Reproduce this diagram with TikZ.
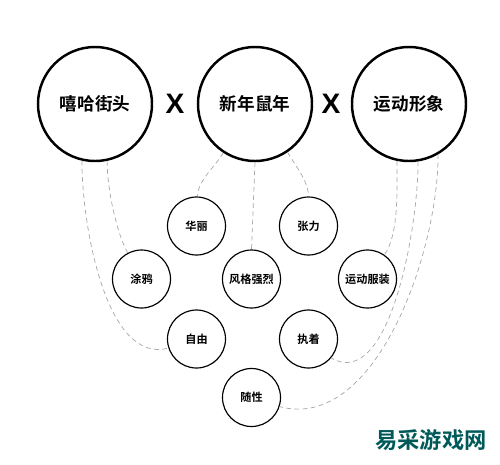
\documentclass[tikz,border=0pt]{standalone}
\usepackage{fontspec}
\setmainfont{Liberation Sans}
\newfontfamily\cjk{Noto Sans CJK SC}[BoldFont={* Bold}]
\usetikzlibrary{positioning}

\begin{document}
\begin{tikzpicture}[
  x=0.03cm, y=-0.03cm,
  font=\cjk\bfseries,
  bigc/.style={draw, circle, line width=2.1pt, minimum size=3.42cm, inner sep=0pt, font=\cjk\bfseries\fontsize{15}{15}\selectfont},
  smallc/.style={draw, circle, line width=1pt, minimum size=1.74cm, inner sep=0pt, font=\cjk\bfseries\fontsize{9.5}{10}\selectfont},
  link/.style={dashed, gray!70, line width=0.6pt, dash pattern=on 4pt off 3pt}
]
\useasboundingbox (0,0) rectangle (500,464);
% top row
\node[bigc] (hiphop) at (95,104) {嘻哈街头};
\node[bigc] (newyear) at (255,104) {新年鼠年};
\node[bigc] (sport) at (409,104) {运动形象};
\node[font=\bfseries\fontsize{24}{24}\selectfont] (x1) at (175,104) {X};
\node[font=\bfseries\fontsize{24}{24}\selectfont] (x2) at (331,104) {X};
% keywords
\node[smallc] (huali) at (196.5,226) {华丽};
\node[smallc] (zhangli) at (308.5,226) {张力};
\node[smallc] (tuya) at (141.5,279) {涂鸦};
\node[smallc] (fengge) at (251.5,279) {风格强烈};
\node[smallc] (yundong) at (367.5,279) {运动服装};
\node[smallc] (ziyou) at (196.5,339) {自由};
\node[smallc] (zhizhuo) at (308.5,339) {执着};
\node[smallc] (suixing) at (251.5,397.5) {随性};
% dashed links
\draw[link] (hiphop.282) to[out=-90, in=118, looseness=0.7] (tuya.118);
\draw[link] (hiphop.257) to[out=-90, in=195, looseness=0.8] (ziyou.198);
\draw[link] (newyear.237) to[out=240, in=90, looseness=0.8] (huali.88);
\draw[link] (newyear.270) -- (fengge.90);
\draw[link] (newyear.304) to[out=300, in=90, looseness=0.8] (zhangli.90);
\draw[link] (sport.258) to[out=-90, in=55, looseness=0.7] (yundong.55);
\draw[link] (sport.279) to[out=-90, in=-30, looseness=0.8] (zhizhuo.320);
\draw[link] (sport.300) to[out=-90, in=-15, looseness=0.85] (suixing.-18);
% watermark
\node[text=teal!70!black, font=\cjk\bfseries\fontsize{19}{19}\selectfont] (mark) at (431,440) {易采游戏网};
\end{tikzpicture}
\end{document}
